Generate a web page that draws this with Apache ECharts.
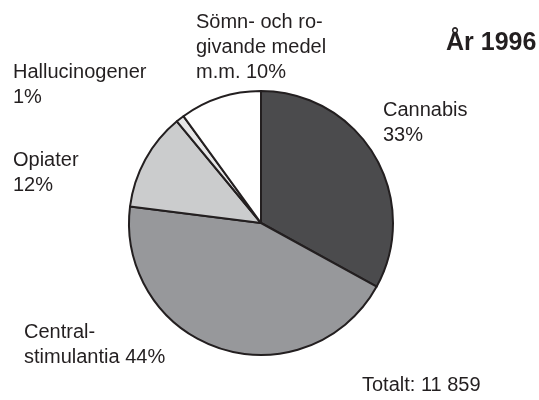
<!DOCTYPE html>
<html>
<head>
<meta charset="utf-8">
<script src="https://cdn.jsdelivr.net/npm/echarts@6/dist/echarts.min.js"></script>
<style>
  html, body { margin: 0; padding: 0; background: #fff; }
  #chart { width: 539px; height: 400px; }
</style>
</head>
<body>
<div id="chart"></div>
<script>
// data
var names = ["Cannabis", "Centralstimulantia", "Opiater", "Hallucinogener", "Sömn- och rogivande medel m.m."];
var values = [33, 44, 12, 1, 10];
var labelTexts = [
  "Cannabis\n33%",
  "Central-\nstimulantia 44%",
  "Opiater\n12%",
  "Hallucinogener\n1%",
  "Sömn- och ro-\ngivande medel\nm.m. 10%"
];
var colors = ["#4b4b4d", "#97989b", "#cbcccd", "#e6e6e7", "#ffffff"];
var titleText = "År 1996";
var totalText = "Totalt: 11 859";

// where each label sits (left, top)
var labelPos = [
  [383, 98],
  [24, 320],
  [13, 148],
  [13, 60],
  [196, 10]
];

var chart = echarts.init(document.getElementById("chart"));

chart.setOption({
  animation: false,
  textStyle: { fontFamily: "Liberation Sans, Arial, sans-serif" },
  title: {
    text: titleText,
    left: 441,
    top: 26,
    textStyle: { fontSize: 25, fontWeight: "bold", color: "#231f20" }
  },
  graphic: [{
    type: "text",
    left: 362,
    top: 375,
    style: { text: totalText, fontSize: 20, fill: "#231f20", fontFamily: "Liberation Sans, Arial, sans-serif" }
  }],
  series: [{
    type: "pie",
    center: [261, 223],
    radius: 132,
    startAngle: 90,
    clockwise: true,
    avoidLabelOverlap: false,
    itemStyle: { borderColor: "#231f20", borderWidth: 2 },
    emphasis: { disabled: true },
    label: {
      show: true,
      position: "outside",
      color: "#231f20",
      fontSize: 20,
      lineHeight: 25,
      formatter: function (p) { return labelTexts[p.dataIndex]; }
    },
    labelLine: { show: false },
    labelLayout: function (p) {
      var pos = labelPos[p.dataIndex];
      return { x: pos[0], y: pos[1], align: "left", verticalAlign: "top" };
    },
    data: names.map(function (n, i) {
      return { name: n, value: values[i], itemStyle: { color: colors[i] } };
    })
  }]
});
</script>
</body>
</html>
